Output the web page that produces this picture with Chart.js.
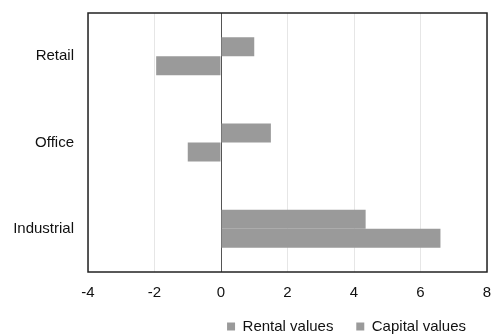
<!DOCTYPE html>
<html>
<head>
<meta charset="utf-8">
<script src="https://cdn.jsdelivr.net/npm/chart.js@4"></script>
<style>
  html, body { margin: 0; padding: 0; background: #fff; }
  #wrap { width: 493px; height: 336px; }
</style>
</head>
<body>
<div id="wrap"><canvas id="c"></canvas></div>
<script>
const categories    = ['Retail', 'Office', 'Industrial'];
const rentalValues  = [1.0, 1.5, 4.35];
const capitalValues = [-1.95, -1.0, 6.6];
const xTicks        = [-4, -2, 0, 2, 4, 6, 8];

const FONT = { family: 'Liberation Sans, Arial, sans-serif', size: 15 };

// frame round the plot area
const frame = {
  id: 'frame',
  afterDraw(chart) {
    const { ctx, chartArea: a } = chart;
    ctx.save();
    ctx.strokeStyle = '#222';
    ctx.lineWidth = 1.5;
    ctx.strokeRect(a.left, a.top, a.right - a.left, a.bottom - a.top);
    ctx.restore();
  }
};

new Chart(document.getElementById('c'), {
  type: 'bar',
  data: {
    labels: categories,
    datasets: [
      { label: 'Rental values',  data: rentalValues,  backgroundColor: '#9a9a9a' },
      { label: 'Capital values', data: capitalValues, backgroundColor: '#9a9a9a' },
    ]
  },
  options: {
    indexAxis: 'y',
    responsive: true,
    maintainAspectRatio: false,
    animation: false,
    categoryPercentage: 0.44,
    barPercentage: 1.0,
    layout: { padding: { top: 13, right: 0, left: 0, bottom: -8 } },
    plugins: {
      legend: {
        position: 'bottom',
        align: 'end',
        labels: {
          font: FONT,
          color: '#111',
          boxWidth: 8,
          boxHeight: 8,
          padding: 2,
          // extra trailing space to widen the gaps between entries
          generateLabels: (chart) => Chart.defaults.plugins.legend.labels.generateLabels(chart)
            .map((l, i) => ({ ...l, text: l.text + (i === 0 ? '     ' : '      '), fillStyle: '#9a9a9a', strokeStyle: '#9a9a9a' })),
        }
      },
      tooltip: { enabled: false }
    },
    scales: {
      x: {
        min: -4,
        max: 8,
        afterBuildTicks: (s) => { s.ticks = xTicks.map(v => ({ value: v })); },
        afterFit: (s) => { s.height = 45; s.paddingRight = 6; },
        ticks: { font: FONT, color: '#111', padding: 12 },
        grid: {
          color: (c) => c.tick && c.tick.value === 0 ? '#555' : '#e6e6e6',
          drawTicks: false,
        },
        border: { display: false },
      },
      y: {
        afterFit: (s) => { s.width = 88; s.paddingTop = 0; s.paddingBottom = 0; },
        ticks: { font: FONT, color: '#111', padding: 14 },
        grid: { display: false, drawTicks: false },
        border: { display: false },
      }
    }
  },
  plugins: [frame]
});
</script>
</body>
</html>
